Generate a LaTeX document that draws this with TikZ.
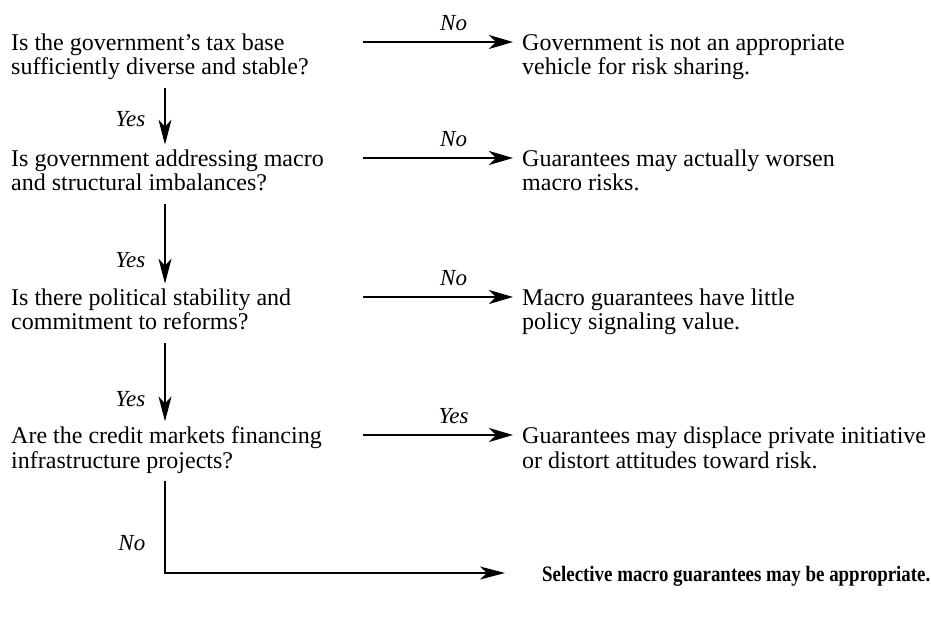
\documentclass[tikz,border=0pt]{standalone}
\usepackage{fontspec}
\setmainfont{Liberation Serif}
\newfontfamily\heavyserif[UprightFont=* Bold, FakeStretch=0.86]{Liberation Serif}
\usetikzlibrary{arrows.meta}
\begin{document}
\begin{tikzpicture}[x=1pt,y=-1pt,
  txt/.style={inner sep=0pt, anchor=base west, align=left,
    font=\fontsize{24}{24.5}\selectfont},
  lbl/.style={inner sep=0pt, font=\fontsize{23}{24}\selectfont\itshape},
  flow/.style={line width=1.5pt, -{Stealth[length=25pt,width=13pt,inset=7pt]}},
  hflow/.style={line width=2.2pt, -{Stealth[length=24pt,width=14pt,inset=7pt]}}]
\useasboundingbox (0,0) rectangle (931,617);

% questions (anchored on the baseline of their last line)
\node[txt] (q1) at (11,75) {Is the government's tax base\\sufficiently diverse and stable?};
\node[txt] (q2) at (11,191) {Is government addressing macro\\and structural imbalances?};
\node[txt] (q3) at (11,330) {Is there political stability and\\commitment to reforms?};
\node[txt] (q4) at (11,468) {Are the credit markets financing\\infrastructure projects?};

% outcomes
\node[txt] (r1) at (522,75) {Government is not an appropriate\\vehicle for risk sharing.};
\node[txt] (r2) at (522,191) {Guarantees may actually worsen\\macro risks.};
\node[txt] (r3) at (522,330) {Macro guarantees have little\\policy signaling value.};
\node[txt] (r4) at (522,468) {Guarantees may displace private initiative\\or distort attitudes toward risk.};
\node[txt, font=\heavyserif\fontsize{22}{24}\selectfont] (r5) at (542,581)
  {Selective macro guarantees may be appropriate.};

% branch points
\coordinate (o1) at (363,42);
\coordinate (o2) at (363,158);
\coordinate (o3) at (363,297);
\coordinate (o4) at (363,435);
\coordinate (spine) at (165,0);
\coordinate (corner) at (165,573);

% horizontal branches
\draw[hflow, shorten >=9pt] (o1) -- (o1 -| r1.west) node[lbl, pos=0.57, above=10pt] {No};
\draw[hflow, shorten >=9pt] (o2) -- (o2 -| r2.west) node[lbl, pos=0.57, above=10pt] {No};
\draw[hflow, shorten >=9pt] (o3) -- (o3 -| r3.west) node[lbl, pos=0.57, above=10pt] {No};
\draw[hflow, shorten >=9pt] (o4) -- (o4 -| r4.west) node[lbl, pos=0.57, above=10pt] {Yes};

% main spine
\draw[flow] ([yshift=-13pt]q1.base -| spine) -- ([yshift=5pt]q2.north -| spine)
  node[lbl, pos=0.55, left=19pt] {Yes};
\draw[flow] ([yshift=-13pt]q2.base -| spine) -- ([yshift=5pt]q3.north -| spine)
  node[lbl, pos=0.7, left=19pt] {Yes};
\draw[flow] ([yshift=-13pt]q3.base -| spine) -- ([yshift=5pt]q4.north -| spine)
  node[lbl, pos=0.72, left=19pt] {Yes};
\draw[flow, shorten >=37pt] ([yshift=-13pt]q4.base -| spine) -- (corner)
  node[lbl, pos=0.68, left=19pt] {No} -- (corner -| r5.west);
\end{tikzpicture}
\end{document}
